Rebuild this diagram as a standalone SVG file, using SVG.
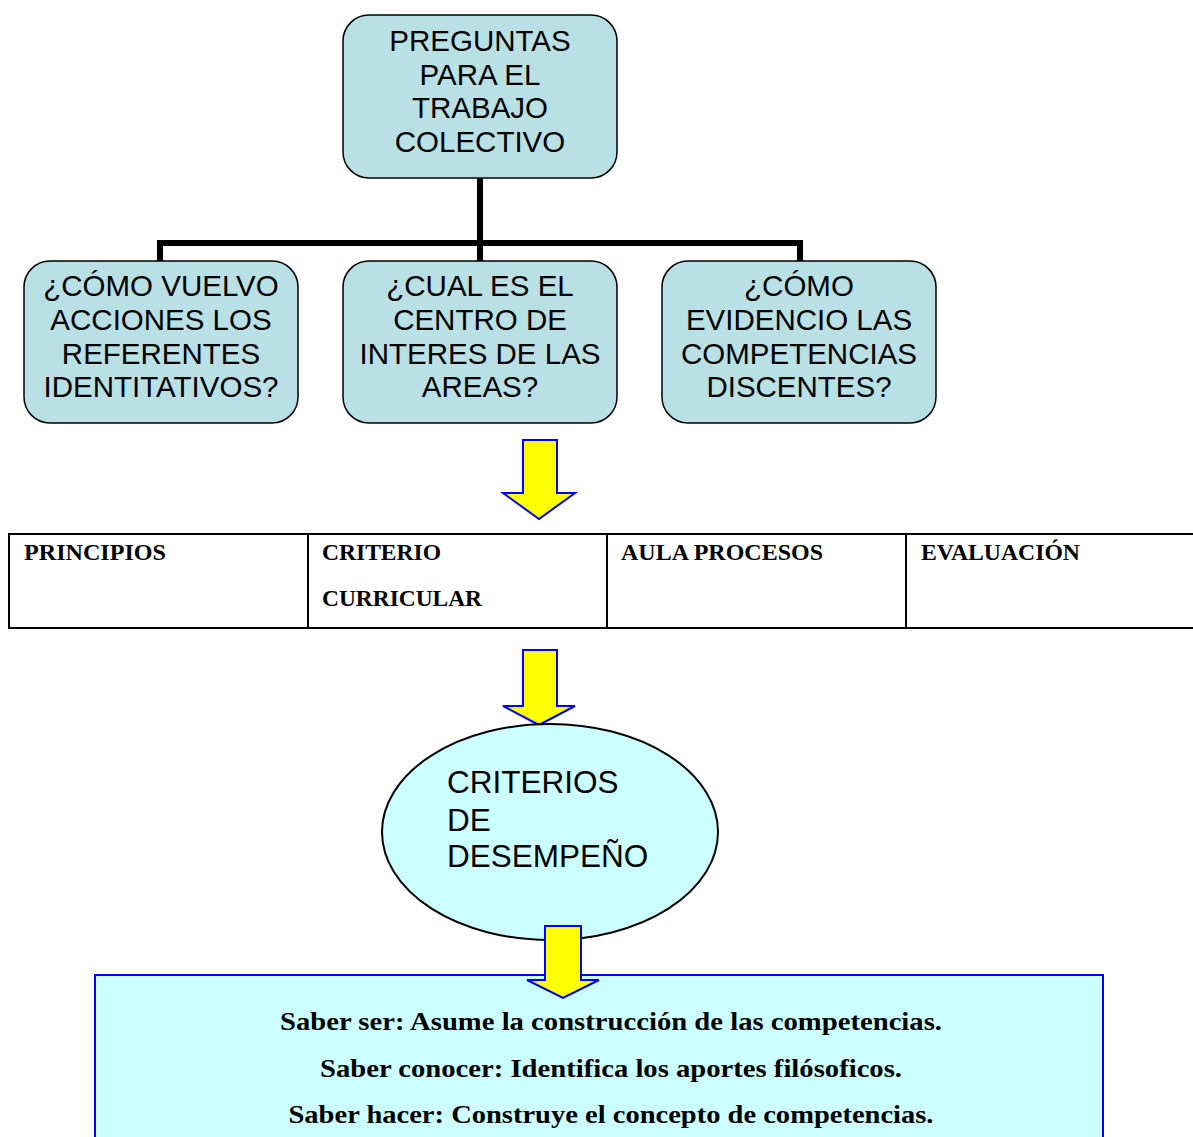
<svg xmlns="http://www.w3.org/2000/svg" width="1193" height="1137" viewBox="0 0 1193 1137">
<style>
.box{fill:#b9e0e4;stroke:#000;stroke-width:1.5}
.t{font-family:"Liberation Sans",Arial,sans-serif;font-size:29.5px;fill:#000;text-anchor:middle}
.arrow{fill:#ffff00;stroke:#0000ff;stroke-width:2;stroke-linejoin:miter}
.conn{fill:none;stroke:#000;stroke-width:6}
.th{font-family:"Liberation Serif","Times New Roman",serif;font-weight:bold;font-size:24px;fill:#000}
.b{font-family:"Liberation Serif","Times New Roman",serif;font-weight:bold;font-size:24.5px;fill:#000;text-anchor:middle}
</style>
<rect width="1193" height="1137" fill="#fff"/>
<g id="connectors">
<path class="conn" d="M480 178V261M160 261V243H800V261"/>
</g>
<g id="node-top">
<rect class="box" x="343" y="15" width="274" height="163" rx="26"/>
<text class="t"><tspan x="480" y="51">PREGUNTAS</tspan><tspan x="480" y="85">PARA EL</tspan><tspan x="480" y="118">TRABAJO</tspan><tspan x="480" y="152">COLECTIVO</tspan></text>
</g>
<g id="node-q1">
<rect class="box" x="24" y="261" width="274" height="162" rx="26"/>
<text class="t"><tspan x="161" y="296">¿CÓMO VUELVO</tspan><tspan x="161" y="330">ACCIONES LOS</tspan><tspan x="161" y="364">REFERENTES</tspan><tspan x="161" y="397">IDENTITATIVOS?</tspan></text>
</g>
<g id="node-q2">
<rect class="box" x="343" y="261" width="274" height="162" rx="26"/>
<text class="t"><tspan x="480" y="296">¿CUAL ES EL</tspan><tspan x="480" y="330">CENTRO DE</tspan><tspan x="480" y="364">INTERES DE LAS</tspan><tspan x="480" y="397">AREAS?</tspan></text>
</g>
<g id="node-q3">
<rect class="box" x="662" y="261" width="274" height="162" rx="26"/>
<text class="t"><tspan x="799" y="296">¿CÓMO</tspan><tspan x="799" y="330">EVIDENCIO LAS</tspan><tspan x="799" y="364">COMPETENCIAS</tspan><tspan x="799" y="397">DISCENTES?</tspan></text>
</g>
<g id="arrow1">
<path class="arrow" d="M523 440H557V493H575L539 519L503 493H523Z"/>
</g>
<g id="table">
<path d="M8 534H1193M8 628H1193M9 534V628M308 534V628M607 534V628M906 534V628" fill="none" stroke="#000" stroke-width="2"/>
<text class="th" x="24" y="560" textLength="142" lengthAdjust="spacingAndGlyphs">PRINCIPIOS</text>
<text class="th" x="322" y="560" textLength="119" lengthAdjust="spacingAndGlyphs">CRITERIO</text>
<text class="th" x="322" y="606" textLength="160" lengthAdjust="spacingAndGlyphs">CURRICULAR</text>
<text class="th" x="621" y="560" textLength="202" lengthAdjust="spacingAndGlyphs">AULA PROCESOS</text>
<text class="th" x="921" y="560" textLength="159" lengthAdjust="spacingAndGlyphs">EVALUACIÓN</text>
</g>
<g id="arrow2">
<path class="arrow" d="M523 650H557V706H575L539 725L503 706H523Z"/>
</g>
<g id="node-criterios">
<ellipse cx="550" cy="832" rx="168" ry="108" fill="#ccffff" stroke="#000" stroke-width="2"/>
<text font-family="Liberation Sans,Arial,sans-serif" font-size="31.5" fill="#000"><tspan x="447" y="793">CRITERIOS</tspan><tspan x="447" y="831">DE</tspan><tspan x="447" y="867">DESEMPEÑO</tspan></text>
</g>
<g id="node-saber">
<rect x="95" y="975" width="1008" height="170" fill="#ccffff" stroke="#0000ff" stroke-width="2"/>
<text class="b" x="611" y="1030" textLength="662" lengthAdjust="spacingAndGlyphs">Saber ser: Asume la construcción de las competencias.</text>
<text class="b" x="611" y="1077" textLength="582" lengthAdjust="spacingAndGlyphs">Saber conocer: Identifica los aportes filósoficos.</text>
<text class="b" x="611" y="1123" textLength="645" lengthAdjust="spacingAndGlyphs">Saber hacer: Construye el concepto de competencias.</text>
</g>
<g id="arrow3">
<path class="arrow" d="M545 926H581V980H599L563 998L527 980H545Z"/>
</g>
</svg>
